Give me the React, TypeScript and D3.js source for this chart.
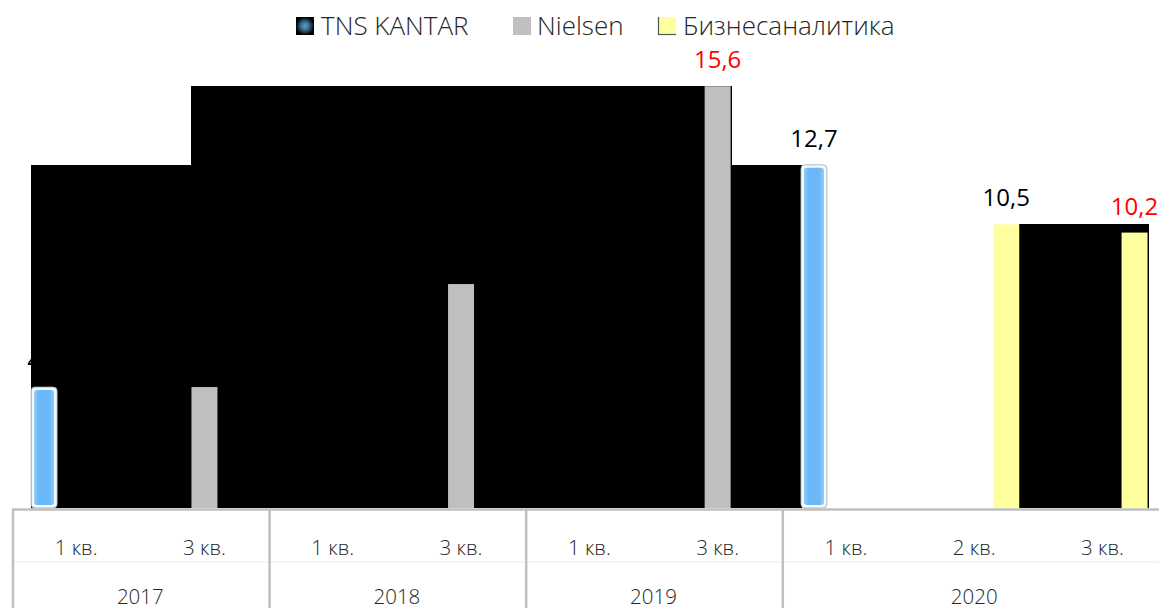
import React from "react";
import * as d3 from "d3";

const quarters = ["1 кв.", "3 кв.", "1 кв.", "3 кв.", "1 кв.", "3 кв.", "1 кв.", "2 кв.", "3 кв."];
const years = ["2017", "2017", "2018", "2018", "2019", "2019", "2020", "2020", "2020"];
const seriesNames = ["TNS KANTAR", "Nielsen", "Бизнесаналитика"];
const tnsValues: (number | null)[] = [4.5, null, null, null, null, null, 12.7, null, null];
const nielsenValues: (number | null)[] = [null, 4.5, null, 8.3, null, 15.6, null, null, null];
const bizValues: (number | null)[] = [null, null, null, null, null, null, null, 10.5, 10.2];
// black step shading: [fromCategory, fromSeries, fromEdge, toCategory, toSeries, toEdge, value]
const shadeBands: [number, string, string, number, string, string, number][] = [
  [0, "TNS KANTAR", "left", 1, "Nielsen", "left", 12.7],
  [1, "Nielsen", "left", 5, "Nielsen", "right", 15.6],
  [5, "Nielsen", "right", 6, "TNS KANTAR", "left", 12.7],
  [7, "Бизнесаналитика", "right", 8, "Бизнесаналитика", "right", 10.5],
];
const redLabels = ["5|Nielsen", "8|Бизнесаналитика"];

const W = 1159;
const H = 608;
const FONT = "'Open Sans', 'Noto Sans', sans-serif";

export default function App() {
  const idx = quarters.map((_, i) => i);
  const x = d3.scaleBand<number>().domain(idx).range([12, 12 + 128.3 * 9]).padding(0);
  const xs = d3
    .scaleBand<string>()
    .domain(seriesNames)
    .range([-48, 48])
    .paddingInner(0.1875)
    .paddingOuter(0.09375);
  const y = d3.scaleLinear().domain([0, 16]).range([509, 509 - 16 * 27.1]);
  const bw = xs.bandwidth();
  const valuesBy: Record<string, (number | null)[]> = {
    "TNS KANTAR": tnsValues,
    Nielsen: nielsenValues,
    "Бизнесаналитика": bizValues,
  };
  const cx = (i: number) => (x(i) as number) + x.bandwidth() / 2;
  const barX = (i: number, s: string) => cx(i) + (xs(s) as number);
  const edge = (i: number, s: string, e: string) => Math.round(barX(i, s) + (e === "right" ? bw : 0));

  const bars: { i: number; s: string; v: number }[] = [];
  seriesNames.forEach((s) =>
    valuesBy[s].forEach((v, i) => {
      if (v != null) bars.push({ i, s, v });
    })
  );

  const yearStarts = idx.filter((i) => i === 0 || years[i] !== years[i - 1]);
  const yearGroups = yearStarts.map((s, k) => {
    const e = k < yearStarts.length - 1 ? yearStarts[k + 1] : idx.length;
    return { year: years[s], x0: x(s) as number, x1: (x(e - 1) as number) + x.bandwidth() };
  });

  const fmt = (v: number) => d3.format(".1f")(v).replace(".", ",");

  const legendItems = [
    { name: "TNS KANTAR", mx: 296, tx: 321 },
    { name: "Nielsen", mx: 513, tx: 537 },
    { name: "Бизнесаналитика", mx: 658, tx: 683 },
  ];

  return (
    <svg
      width={W}
      height={H}
      style={{ position: "absolute", left: 0, top: 0, background: "#fff" }}
      fontFamily={FONT}
    >
      <defs>
        <radialGradient id="tnsGlow" cx="50%" cy="50%" r="50%">
          <stop offset="0%" stopColor="#5f9cc8" />
          <stop offset="45%" stopColor="#3a6f92" />
          <stop offset="100%" stopColor="#000" />
        </radialGradient>
        <linearGradient id="blueBar" x1="0" x2="1" y1="0" y2="0">
          <stop offset="0%" stopColor="#8fcaf8" />
          <stop offset="25%" stopColor="#6ab8f7" />
          <stop offset="75%" stopColor="#6ab8f7" />
          <stop offset="100%" stopColor="#8fcaf8" />
        </linearGradient>
      </defs>

      {/* legend */}
      {legendItems.map((l) => (
        <g key={l.name}>
          {l.name === "TNS KANTAR" && <rect x={l.mx} y={17} width={18} height={18} fill="url(#tnsGlow)" />}
          {l.name === "Nielsen" && <rect x={l.mx} y={17} width={18} height={18} fill="#c0c0c0" />}
          {l.name === "Бизнесаналитика" && (
            <g>
              <rect x={l.mx} y={17} width={18} height={18} fill="#ffffa0" />
              <line x1={l.mx + 0.5} x2={l.mx + 0.5} y1={17} y2={35} stroke="#555" strokeWidth={1.2} />
              <line x1={l.mx} x2={l.mx + 18} y1={34.5} y2={34.5} stroke="#555" strokeWidth={1.2} />
            </g>
          )}
          <text x={l.tx} y={35} fontSize={26} fontWeight={300} fill="#262626">
            {l.name}
          </text>
        </g>
      ))}

      {/* value labels (drawn before shading) */}
      {bars.map((b) => (
        <text
          key={"l" + b.i + b.s}
          x={barX(b.i, b.s) + bw / 2}
          y={y(b.v) - 18}
          textAnchor="middle"
          fontSize={24}
          fill={redLabels.includes(b.i + "|" + b.s) ? "#ff0000" : "#000"}
        >
          {fmt(b.v)}
        </text>
      ))}

      {/* black step shading */}
      <g shapeRendering="crispEdges">
        {shadeBands.map((sb, k) => {
          const x0 = edge(sb[0], sb[1], sb[2]);
          const x1 = edge(sb[3], sb[4], sb[5]);
          return (
            <rect key={"sh" + k} x={x0} y={Math.round(y(sb[6]))} width={x1 - x0 + 0.5} height={Math.round(y(0) - y(sb[6])) - 1} fill="#000" />
          );
        })}
      </g>

      {/* bars */}
      {bars.map((b) => {
        const bx = barX(b.i, b.s);
        const top = y(b.v);
        const h = y(0) - top - 1;
        if (b.s === "TNS KANTAR") {
          return (
            <g key={"b" + b.i + b.s}>
              <rect x={bx} y={top} width={bw} height={h} rx={4} fill="#f4f9fd" stroke="#9aa7b0" strokeWidth={0.8} />
              <rect x={bx + 3} y={top + 3} width={bw - 6} height={h - 6} rx={3} fill="url(#blueBar)" />
            </g>
          );
        }
        return (
          <rect
            key={"b" + b.i + b.s}
            x={bx}
            y={top}
            width={bw}
            height={h}
            fill={b.s === "Nielsen" ? "#bfbfbf" : "#ffffa0"}
          />
        );
      })}

      {/* category axis */}
      <line x1={12} x2={W} y1={562} y2={562} stroke="#f0f0f0" strokeWidth={1.5} />
      <line x1={12} x2={W} y1={509.5} y2={509.5} stroke="#bfbfbf" strokeWidth={2.5} />
      {yearGroups.map((g) => (
        <line key={"d" + g.year} x1={g.x0 + 1} x2={g.x0 + 1} y1={509} y2={H} stroke="#bfbfbf" strokeWidth={2.5} />
      ))}
      {idx.map((i) => (
        <text key={"q" + i} x={cx(i)} y={555} textAnchor="middle" fontSize={20.5} fontWeight={300} fill="#262626">
          {quarters[i]}
        </text>
      ))}
      {yearGroups.map((g) => (
        <text key={"y" + g.year} x={(g.x0 + g.x1) / 2} y={604} textAnchor="middle" fontSize={20.5} fontWeight={300} fill="#262626">
          {g.year}
        </text>
      ))}
    </svg>
  );
}
